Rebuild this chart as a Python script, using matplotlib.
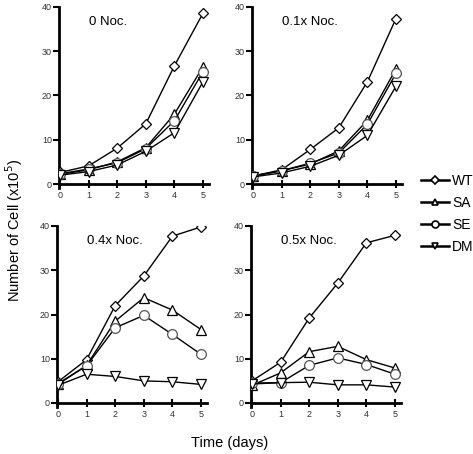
import matplotlib
matplotlib.use("Agg")
import matplotlib.pyplot as plt
from matplotlib.lines import Line2D

plt.rcParams["font.family"] = ["Liberation Sans", "DejaVu Sans"]

days = [0, 1, 2, 3, 4, 5]
series_names = ["WT", "SA", "SE", "DM"]
panel_titles = ["0 Noc.", "0.1x Noc.", "0.4x Noc.", "0.5x Noc."]

# values in x10^5 cells
noc0_wt = [2.6, 4.1, 8.1, 13.6, 26.7, 38.6]
noc0_sa = [2.2, 3.2, 5.0, 8.2, 15.8, 26.5]
noc0_se = [2.3, 3.4, 4.8, 8.0, 14.3, 25.4]
noc0_dm = [2.0, 2.8, 4.3, 7.4, 11.6, 23.1]

noc01_wt = [1.8, 3.2, 7.8, 12.7, 23.1, 37.4]
noc01_sa = [1.8, 3.0, 4.5, 7.5, 14.4, 26.0]
noc01_se = [1.8, 3.0, 4.7, 7.0, 13.5, 25.0]
noc01_dm = [1.6, 2.5, 4.0, 6.5, 11.0, 22.1]

noc04_wt = [4.8, 9.8, 22.0, 28.7, 37.7, 39.8]
noc04_sa = [4.2, 8.5, 18.5, 23.8, 21.0, 16.6]
noc04_se = [4.4, 8.4, 17.0, 19.8, 15.5, 11.0]
noc04_dm = [4.0, 6.5, 6.0, 5.0, 4.8, 4.2]

noc05_wt = [5.0, 9.2, 19.2, 27.1, 36.2, 37.9]
noc05_sa = [4.0, 6.8, 11.6, 12.8, 9.8, 7.9]
noc05_se = [4.5, 4.6, 8.5, 10.2, 8.7, 6.5]
noc05_dm = [4.3, 4.6, 4.7, 4.1, 4.1, 3.6]

panels = [
    [noc0_wt, noc0_sa, noc0_se, noc0_dm],
    [noc01_wt, noc01_sa, noc01_se, noc01_dm],
    [noc04_wt, noc04_sa, noc04_se, noc04_dm],
    [noc05_wt, noc05_sa, noc05_se, noc05_dm],
]

markers = {"WT": ("D", 5), "SA": ("^", 6.5), "SE": ("o", 7), "DM": ("v", 6.5)}

W, H = 473, 454
fig = plt.figure(figsize=(W / 100, H / 100), dpi=100)

def fx(px):
    return px / W

def fy(py):
    return 1 - py / H

# axes rectangles in pixels: (left, right, top(=40), zero)
rects = [(59, 209, 7, 184), (252, 402, 7, 184), (57, 207, 226, 403), (251, 401, 226, 403)]

for (l, r, t, z), data, title in zip(rects, panels, panel_titles):
    ppu = (z - t) / 40.0
    bottom_px = z + 1.0 * ppu
    ax = fig.add_axes([fx(l), fy(bottom_px), (r - l) / W, (bottom_px - t) / H])
    for name, vals in zip(series_names, data):
        m, ms = markers[name]
        ax.plot(days, vals, color="black", lw=1.0, marker=m, ms=ms,
                mfc="white", mec="black" if name != "SE" else "#555555", mew=0.9,
                zorder=3)
    ax.set_xlim(-0.035, 5.21)
    ax.set_ylim(-1, 40)
    ax.spines["top"].set_visible(False)
    ax.spines["right"].set_visible(False)
    ax.spines["bottom"].set_position(("data", 0))
    ax.spines["left"].set_bounds(-1, 40)
    ax.spines["left"].set_linewidth(2)
    ax.spines["bottom"].set_linewidth(2)
    ax.set_xticks(days)
    ax.set_yticks([0, 10, 20, 30, 40])
    ax.tick_params(axis="y", direction="out", length=4, width=1.5, labelsize=6.5,
                   labelcolor="#333333", pad=1)
    ax.tick_params(axis="x", direction="inout", length=6, width=1.5, labelsize=6.5,
                   labelcolor="#333333", pad=2)
    ax.text(0.2, 0.92, title, transform=ax.transAxes, fontsize=9.5,
            ha="left", va="center")

handles = []
for name in series_names:
    m, ms = markers[name]
    handles.append(Line2D([], [], color="black", lw=1.8, marker=m,
                          ms=4.5 if name != "SE" else 5,
                          mfc="white", mec="black", mew=1.2))
fig.legend(handles, series_names, loc="upper left",
           bbox_to_anchor=(fx(414), fy(167)), frameon=False, fontsize=10,
           handlelength=2.0, handletextpad=0.25, labelspacing=0.58, borderpad=0)

fig.text(fx(14), fy(230), "Number of Cell (x10$^5$)", rotation=90, fontsize=10.5,
         ha="center", va="center")
fig.text(fx(230), fy(443), "Time (days)", fontsize=10.5, ha="center", va="center")

fig.savefig("out.png", dpi=100)
